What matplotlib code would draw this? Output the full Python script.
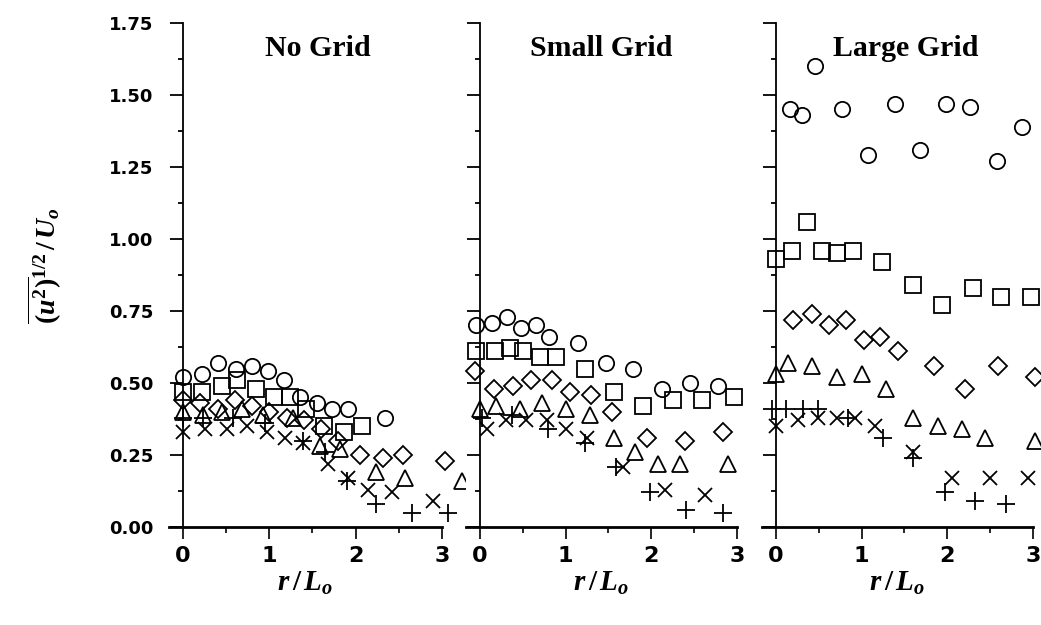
import matplotlib
matplotlib.use("Agg")
import matplotlib.pyplot as plt
from matplotlib.ticker import MultipleLocator, FixedLocator

plt.rcParams['mathtext.fontset'] = 'custom'
plt.rcParams['mathtext.it'] = 'Liberation Serif:italic:bold'
plt.rcParams['mathtext.rm'] = 'Liberation Serif:bold'
plt.rcParams['mathtext.bf'] = 'Liberation Serif:bold'

panel_titles = ["No Grid", "Small Grid", "Large Grid"]
y_ticks = [0.00, 0.25, 0.50, 0.75, 1.00, 1.25, 1.50, 1.75]
x_ticks = [0, 1, 2, 3]

# ---- No Grid ----
ng_circle_x = [0.0, 0.22, 0.41, 0.61, 0.80, 0.98, 1.17, 1.36, 1.55, 1.73, 1.91, 2.34]
ng_circle_y = [0.52, 0.53, 0.57, 0.55, 0.56, 0.54, 0.51, 0.45, 0.43, 0.41, 0.41, 0.38]
ng_square_x = [0.0, 0.22, 0.45, 0.63, 0.85, 1.05, 1.24, 1.43, 1.63, 1.86, 2.07]
ng_square_y = [0.47, 0.47, 0.49, 0.51, 0.48, 0.45, 0.45, 0.41, 0.35, 0.33, 0.35]
ng_diamond_x = [0.0, 0.2, 0.4, 0.6, 0.8, 1.0, 1.2, 1.4, 1.6, 1.8, 2.05, 2.32, 2.55, 3.03]
ng_diamond_y = [0.44, 0.43, 0.41, 0.44, 0.42, 0.40, 0.38, 0.37, 0.34, 0.30, 0.25, 0.24, 0.25, 0.23]
ng_tri_x = [0.0, 0.23, 0.45, 0.68, 0.93, 1.28, 1.59, 1.82, 2.24, 2.57, 3.23]
ng_tri_y = [0.40, 0.39, 0.40, 0.41, 0.39, 0.38, 0.28, 0.27, 0.19, 0.17, 0.16]
ng_x_x = [0.0, 0.25, 0.51, 0.74, 0.97, 1.18, 1.39, 1.68, 1.91, 2.14, 2.42, 2.90]
ng_x_y = [0.33, 0.34, 0.34, 0.35, 0.33, 0.31, 0.29, 0.22, 0.17, 0.13, 0.12, 0.09]
ng_plus_x = [0.0, 0.23, 0.58, 0.95, 1.39, 1.65, 1.90, 2.24, 2.65, 3.07]
ng_plus_y = [0.38, 0.38, 0.38, 0.36, 0.30, 0.26, 0.16, 0.08, 0.05, 0.05]

# ---- Small Grid ----
sg_circle_x = [-0.04, 0.14, 0.32, 0.48, 0.65, 0.81, 1.15, 1.47, 1.79, 2.12, 2.45, 2.78]
sg_circle_y = [0.70, 0.71, 0.73, 0.69, 0.70, 0.66, 0.64, 0.57, 0.55, 0.48, 0.50, 0.49]
sg_square_x = [-0.04, 0.18, 0.35, 0.50, 0.70, 0.89, 1.23, 1.56, 1.90, 2.25, 2.59, 2.96]
sg_square_y = [0.61, 0.61, 0.62, 0.61, 0.59, 0.59, 0.55, 0.47, 0.42, 0.44, 0.44, 0.45]
sg_diamond_x = [-0.06, 0.16, 0.39, 0.60, 0.84, 1.05, 1.30, 1.54, 1.95, 2.39, 2.84]
sg_diamond_y = [0.54, 0.48, 0.49, 0.51, 0.51, 0.47, 0.46, 0.40, 0.31, 0.30, 0.33]
sg_tri_x = [0.0, 0.19, 0.47, 0.72, 1.01, 1.28, 1.56, 1.81, 2.08, 2.33, 2.90]
sg_tri_y = [0.41, 0.42, 0.41, 0.43, 0.41, 0.39, 0.31, 0.26, 0.22, 0.22, 0.22]
sg_x_x = [0.08, 0.31, 0.54, 0.78, 1.01, 1.25, 1.67, 2.16, 2.63]
sg_x_y = [0.34, 0.37, 0.37, 0.37, 0.34, 0.31, 0.21, 0.13, 0.11]
sg_plus_x = [0.02, 0.37, 0.80, 1.23, 1.59, 1.98, 2.41, 2.84]
sg_plus_y = [0.38, 0.39, 0.34, 0.29, 0.21, 0.12, 0.06, 0.05]

# ---- Large Grid ----
lg_circle_x = [0.16, 0.31, 0.46, 0.77, 1.08, 1.39, 1.68, 1.98, 2.26, 2.58, 2.87]
lg_circle_y = [1.45, 1.43, 1.60, 1.45, 1.29, 1.47, 1.31, 1.47, 1.46, 1.27, 1.39]
lg_square_x = [0.0, 0.19, 0.36, 0.54, 0.71, 0.90, 1.24, 1.60, 1.94, 2.30, 2.63, 2.98]
lg_square_y = [0.93, 0.96, 1.06, 0.96, 0.95, 0.96, 0.92, 0.84, 0.77, 0.83, 0.80, 0.80]
lg_diamond_x = [0.20, 0.42, 0.62, 0.82, 1.03, 1.21, 1.43, 1.84, 2.21, 2.59, 3.02]
lg_diamond_y = [0.72, 0.74, 0.70, 0.72, 0.65, 0.66, 0.61, 0.56, 0.48, 0.56, 0.52]
lg_tri_x = [0.0, 0.14, 0.42, 0.71, 1.00, 1.29, 1.60, 1.89, 2.17, 2.44, 3.02]
lg_tri_y = [0.53, 0.57, 0.56, 0.52, 0.53, 0.48, 0.38, 0.35, 0.34, 0.31, 0.30]
lg_x_x = [0.0, 0.26, 0.49, 0.71, 0.92, 1.16, 1.60, 2.05, 2.50, 2.94]
lg_x_y = [0.35, 0.37, 0.38, 0.38, 0.38, 0.35, 0.26, 0.17, 0.17, 0.17]
lg_plus_x = [-0.04, 0.12, 0.32, 0.49, 0.84, 1.25, 1.60, 1.97, 2.32, 2.68]
lg_plus_y = [0.41, 0.41, 0.41, 0.41, 0.38, 0.31, 0.24, 0.12, 0.09, 0.08]

panels = [
    [(ng_circle_x, ng_circle_y), (ng_square_x, ng_square_y), (ng_diamond_x, ng_diamond_y),
     (ng_tri_x, ng_tri_y), (ng_x_x, ng_x_y), (ng_plus_x, ng_plus_y)],
    [(sg_circle_x, sg_circle_y), (sg_square_x, sg_square_y), (sg_diamond_x, sg_diamond_y),
     (sg_tri_x, sg_tri_y), (sg_x_x, sg_x_y), (sg_plus_x, sg_plus_y)],
    [(lg_circle_x, lg_circle_y), (lg_square_x, lg_square_y), (lg_diamond_x, lg_diamond_y),
     (lg_tri_x, lg_tri_y), (lg_x_x, lg_x_y), (lg_plus_x, lg_plus_y)],
]
marker_styles = [('o', 11), ('s', 11), ('D', 9.5), ('^', 11.5), ('x', 10), ('+', 13)]

W, H = 1041, 625
fig = plt.figure(figsize=(W / 100, H / 100), dpi=100)
lefts = [169, 466, 762]
widths = [273, 271, 271]
bottom_px, top_px = 527, 23
title_fx = [0.545, 0.50, 0.53]

for i, (lp, wp) in enumerate(zip(lefts, widths)):
    ax = fig.add_axes([lp / W, (H - bottom_px) / H, wp / W, (bottom_px - top_px) / H])
    ax.set_xlim(-0.162, 3.0)
    ax.set_ylim(0, 1.75)
    for (xs, ys), (m, ms) in zip(panels[i], marker_styles):
        ax.plot(xs, ys, linestyle='none', marker=m, markersize=ms, mfc='none',
                mec='black', mew=1.3, clip_on=False, zorder=3)
    for s in ['top', 'right']:
        ax.spines[s].set_visible(False)
    ax.spines['left'].set_position(('data', 0))
    ax.spines['left'].set_linewidth(1.3)
    ax.spines['bottom'].set_linewidth(2.0)
    ax.yaxis.set_major_locator(FixedLocator(y_ticks))
    ax.yaxis.set_minor_locator(MultipleLocator(0.125))
    ax.xaxis.set_major_locator(FixedLocator(x_ticks))
    ax.xaxis.set_minor_locator(MultipleLocator(0.5))
    ax.tick_params(axis='y', which='major', direction='out', length=9.5, width=1.3, pad=12)
    ax.tick_params(axis='y', which='minor', direction='out', length=3.5, width=1.3)
    ax.tick_params(axis='x', which='major', direction='out', length=8.5, width=1.2, pad=5)
    ax.tick_params(axis='x', which='minor', direction='out', length=4.5, width=1.2)
    ax.set_xticklabels([str(t) for t in x_ticks], fontsize=16, fontweight='bold',
                       family='DejaVu Sans')
    if i == 0:
        ax.set_yticklabels(["%.2f" % t for t in y_ticks], fontsize=13, fontweight='bold',
                           family='DejaVu Sans')
    else:
        ax.set_yticklabels([])
    ax.set_xlabel(r"$r\,/\,L_o$", fontsize=21, labelpad=2)
    ax.text(title_fx[i], 0.95, panel_titles[i], transform=ax.transAxes, ha='center',
            va='center', fontsize=21.5, fontweight='bold', family='Liberation Serif')

fig.text(45 / W, 1 - 265 / H, r"$\overline{(u^2)}^{1/2}\,/\,U_o$", rotation=90,
         ha='center', va='center', fontsize=20)

fig.savefig("out.png", dpi=100)
